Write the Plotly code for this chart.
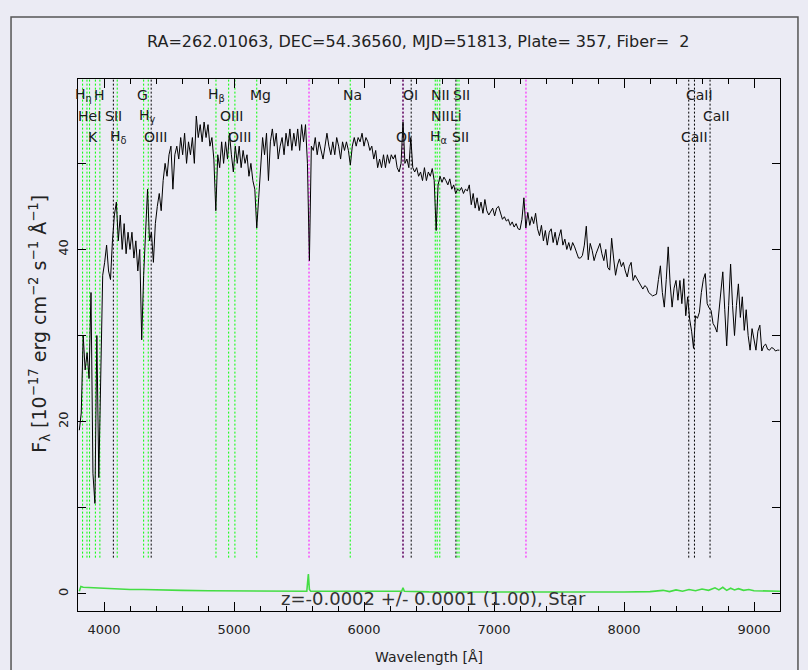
import numpy as np
import plotly.graph_objects as go

# Flux-calibrated spectrum, sampled every 15 A from 3810 A
wave_start, wave_step = 3810, 15
flux = [
    19.0, 21.0, 30.0, 26.0, 28.0, 25.0, 35.0, 14.0, 10.5, 30.0,
    13.5, 25.0, 37.0, 38.5, 40.5, 37.5, 36.5, 41.0, 44.0, 45.5,
    41.0, 44.0, 40.0, 43.0, 39.5, 42.0, 40.0, 42.0, 39.0, 41.0,
    37.5, 40.0, 29.5, 37.0, 42.0, 47.0, 41.0, 42.0, 38.5, 43.0,
    45.0, 46.5, 44.5, 48.0, 50.0, 48.5, 51.0, 52.0, 47.0, 51.0,
    52.0, 50.5, 53.0, 51.0, 53.5, 50.0, 52.5, 51.0, 53.0, 50.0,
    55.5, 53.0, 54.5, 52.5, 54.8, 53.0, 54.5, 52.0, 53.0, 50.5,
    44.5, 51.0, 49.5, 52.5, 50.0, 52.5, 50.5, 53.5, 51.0, 49.0,
    52.0, 50.0, 52.0, 49.5, 51.5, 50.0, 51.0, 48.5, 50.0, 48.0,
    47.0, 42.5, 46.0, 50.0, 53.0, 51.0, 53.5, 48.0, 52.5, 54.0,
    52.0, 53.5, 50.5, 52.0, 53.0, 51.0, 53.5, 52.0, 54.0, 51.5,
    53.5, 52.0, 54.0, 51.5, 54.5, 52.5, 54.5, 50.0, 38.7, 52.0,
    51.5, 53.0, 51.0, 52.5, 51.5, 50.5, 52.0, 53.5, 52.0, 51.0,
    52.5, 51.0, 53.0, 52.0, 50.5, 52.5, 51.5, 52.5, 51.5, 49.8,
    52.0, 53.0, 52.0, 53.0, 52.5, 53.5, 52.0, 53.0, 52.5, 51.5,
    52.0, 50.5, 51.5, 49.5, 50.5, 49.5, 51.0, 49.5, 51.0, 50.0,
    51.0, 50.5, 51.0, 49.5, 49.0, 50.0, 54.8, 50.0, 50.5, 49.5,
    53.0, 49.5, 49.0, 49.5, 48.5, 49.0, 48.0, 49.5, 48.0, 49.0,
    48.5, 49.4, 48.0, 42.2, 47.5, 48.5, 47.8, 48.4, 48.0, 47.5,
    48.2, 47.0, 47.5, 46.5, 47.0, 46.8, 47.2, 46.5, 47.0, 46.8,
    47.5, 45.2, 46.5, 44.8, 46.0, 44.5, 45.5, 44.2, 45.8, 44.5,
    44.0, 44.5, 44.8, 43.9, 44.8, 45.0, 44.3, 43.5, 43.8, 43.3,
    43.5, 42.8, 43.2, 42.6, 43.0, 42.4, 42.3, 43.5, 46.0, 42.5,
    44.3, 42.8, 43.8, 43.0, 44.2, 42.4, 41.6, 42.8, 41.0, 42.2,
    40.5, 42.0, 42.4, 40.8, 42.0, 40.5, 41.5, 42.3, 40.5, 41.2,
    40.0, 40.8, 39.9, 40.8, 40.3, 39.6, 39.0, 39.0, 39.3, 40.5,
    42.7, 38.8, 40.7, 39.9, 38.7, 39.5, 40.0, 40.7, 39.5, 38.7,
    40.0, 37.9, 37.6, 41.3, 39.0, 37.0, 38.2, 38.9, 38.0, 38.5,
    37.5, 36.8, 38.0, 38.5, 36.4, 37.0, 36.6, 36.2, 35.8, 35.4,
    35.8, 35.6, 35.0, 34.8, 34.6, 34.7, 34.8, 36.5, 38.1, 35.0,
    33.3, 36.5, 40.3, 36.0, 33.3, 35.5, 36.4, 34.1, 36.4, 33.7,
    36.6, 32.3, 34.5, 31.9, 30.5, 28.5, 32.3, 32.0, 32.7, 35.0,
    36.5, 37.2, 33.7, 33.2, 32.9, 31.4, 31.0, 30.4, 33.0, 35.5,
    37.4, 33.0, 28.8, 33.5, 38.3, 33.5, 30.0, 33.5, 36.0, 32.1,
    34.5, 30.6, 33.0, 30.0, 28.3, 30.8, 29.5, 28.3, 30.5, 31.2,
    28.2, 28.8, 29.0, 28.4, 28.3, 28.6, 28.5, 28.2, 28.3, 28.3,
]
wave = wave_start + wave_step * np.arange(len(flux))

# Flux error
err_wave = [3810, 3822, 3840, 3900, 4000, 4100, 4200, 4300, 4400, 4600, 4800,
            5000, 5200, 5400, 5560, 5572, 5580, 5590, 5800, 5890, 5900, 6200,
            6290, 6300, 6310, 6500, 7000, 7500, 8000, 8200, 8300, 8350, 8400,
            8450, 8500, 8550, 8600, 8650, 8700, 8730, 8760, 8790, 8820, 8850,
            8880, 8920, 8960, 9000, 9100, 9200]
err_flux = [0.3, 0.85, 0.75, 0.7, 0.6, 0.55, 0.5, 0.5, 0.45, 0.4, 0.35,
            0.33, 0.3, 0.3, 0.3, 2.3, 0.5, 0.3, 0.28, 0.35, 0.28, 0.25,
            0.3, 0.7, 0.3, 0.22, 0.2, 0.2, 0.2, 0.25, 0.4, 0.25, 0.45,
            0.3, 0.5, 0.35, 0.55, 0.4, 0.7, 0.45, 0.75, 0.4, 0.65, 0.45,
            0.6, 0.4, 0.5, 0.35, 0.3, 0.3]

# Spectral features: wavelength, label, label row, colour
line_wave = [3835.4, 3869.0, 3889.0, 3933.7, 3968.5, 4072.0, 4101.7, 4305.0,
             4340.5, 4363.0, 4861.3, 4959.0, 5007.0, 5175.0, 5577.0, 5894.0,
             6300.0, 6300.0, 6363.0, 6548.0, 6563.0, 6583.0, 6707.0, 6716.0,
             6731.0, 7246.0, 8498.0, 8542.0, 8662.0]
line_label = ["H<sub>η</sub>", "", "HeI", "K", "H", "SII", "H<sub>δ</sub>", "G",
              "H<sub>γ</sub>", "OIII", "H<sub>β</sub>", "OIII", "OIII", "Mg", "", "Na",
              "", "OI", "OI", "NII", "H<sub>α</sub>", "NII", "Li", "SII",
              "SII", "", "CaII", "CaII", "CaII"]
line_row = [1, 0, 2, 3, 1, 2, 3, 1,
            2, 3, 1, 2, 3, 1, 0, 1,
            0, 3, 1, 2, 3, 1, 2, 1,
            3, 0, 3, 1, 2]
line_kind = ["g", "g", "g", "g", "g", "k", "g", "g",
             "g", "k", "g", "g", "g", "g", "m", "g",
             "m", "k", "k", "g", "g", "g", "k", "g",
             "g", "m", "k", "k", "k"]
label_shift = [1, 0, 0, -2, 0, 0, 1, -1,
               -1, 4, 1, 3, 5, 4, 0, 2,
               0, 0, -1, 5, 1, 1, 0, 4,
               1, 0, 6, 5, 6]

kind_color = {"g": "#00ff00", "k": "#000000", "m": "#ff00ff"}

BG = "#ebebf4"
FONT = "DejaVu Sans"
YMIN, YMAX = -2.0, 59.8
XMIN, XMAX = 3800, 9200

fig = go.Figure()
fig.add_trace(go.Scatter(x=err_wave, y=err_flux, mode="lines",
                         line=dict(color="#44dd44", width=1.6),
                         hoverinfo="skip", showlegend=False))
fig.add_trace(go.Scatter(x=wave, y=flux, mode="lines",
                         line=dict(color="#000000", width=1),
                         hoverinfo="skip", showlegend=False))

shapes = []
for lw, kind in zip(line_wave, line_kind):
    shapes.append(dict(type="line", xref="x", yref="y", x0=lw, x1=lw,
                       y0=4.2, y1=YMAX, layer="below",
                       line=dict(color=kind_color[kind], width=1, dash="2px,2px")))
# outer frame
shapes.append(dict(type="rect", xref="paper", yref="paper",
                   x0=-0.0954, x1=1.0256, y0=-0.12, y1=1.1165,
                   line=dict(color="#555555", width=1.5), layer="above"))

row_y = {1: 0.970, 2: 0.931, 3: 0.891}
annotations = []
for lw, lab, row, sh in zip(line_wave, line_label, line_row, label_shift):
    if not lab:
        continue
    annotations.append(dict(x=lw, y=row_y[row], xref="x", yref="paper",
                            text=lab, showarrow=False, xanchor="center",
                            yanchor="middle", xshift=sh,
                            font=dict(family=FONT, size=14, color="#1a1a1a")))

annotations += [
    dict(text="RA=262.01063, DEC=54.36560, MJD=51813, Plate= 357, Fiber=  2",
         x=0.485, y=1.07, xref="paper", yref="paper", showarrow=False,
         xanchor="center", yanchor="middle",
         font=dict(family=FONT, size=16, color="#222222")),
    dict(text="z=-0.0002 +/- 0.0001 (1.00), Star",
         x=0.507, y=0.023, xref="paper", yref="paper", showarrow=False,
         xanchor="center", yanchor="middle",
         font=dict(family=FONT, size=18, color="#333333")),
    dict(text="Wavelength [Å]",
         x=0.5, y=-0.086, xref="paper", yref="paper", showarrow=False,
         xanchor="center", yanchor="middle",
         font=dict(family=FONT, size=14, color="#222222")),
    dict(text="F<sub>λ</sub> [10<sup>−17</sup> erg cm<sup>−2</sup> s<sup>−1</sup> Å<sup>−1</sup>]",
         x=-0.054, y=0.54, xref="paper", yref="paper", showarrow=False,
         xanchor="center", yanchor="middle", textangle=-90,
         font=dict(family=FONT, size=19, color="#222222")),
]

fig.update_layout(
    width=808, height=670,
    margin=dict(l=78, r=28, t=79, b=59),
    paper_bgcolor=BG, plot_bgcolor=BG,
    shapes=shapes, annotations=annotations,
    showlegend=False,
    font=dict(family=FONT, size=13, color="#222222"),
)
fig.update_xaxes(range=[XMIN, XMAX], showgrid=False, zeroline=False,
                 showline=True, linecolor="#000000", linewidth=1, mirror="ticks",
                 ticks="inside", ticklen=9, tickcolor="#000000",
                 tickvals=[4000, 5000, 6000, 7000, 8000, 9000],
                 minor=dict(dtick=200, ticks="inside", ticklen=5, tickcolor="#000000"),
                 ticklabelstandoff=6,
                 tickfont=dict(family=FONT, size=13, color="#222222"))
fig.update_yaxes(range=[YMIN, YMAX], showgrid=False, zeroline=False,
                 showline=True, linecolor="#000000", linewidth=1, mirror="ticks",
                 ticks="inside", ticklen=8, tickcolor="#000000",
                 tickvals=[0, 10, 20, 30, 40, 50],
                 ticktext=["0", "", "20", "", "40", ""],
                 tickangle=-90, ticklabelstandoff=4,
                 tickfont=dict(family=FONT, size=13, color="#222222"))

fig.write_html("out.html")
